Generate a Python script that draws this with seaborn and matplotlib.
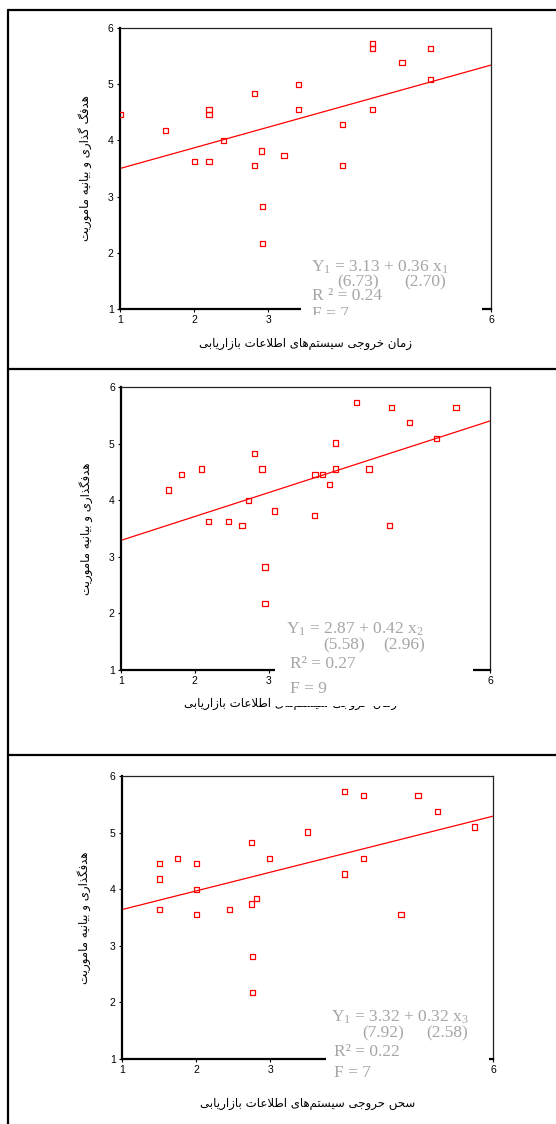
import matplotlib
matplotlib.use('Agg')
import matplotlib.pyplot as plt
import seaborn as sns
from matplotlib.patches import Rectangle
from matplotlib.lines import Line2D
from matplotlib.transforms import Bbox, TransformedBbox

# ---------- data ----------
x1 = [1.01, 1.61, 2.00, 2.20, 2.20, 2.20, 2.40, 2.81, 2.81, 2.91, 2.92, 2.92,
      3.21, 3.41, 3.41, 4.00, 4.00, 4.40, 4.40, 4.40, 4.80, 5.19, 5.19]
y1 = [4.46, 4.18, 3.63, 4.55, 4.46, 3.63, 4.00, 4.83, 3.55, 3.81, 2.82, 2.17,
      3.73, 5.00, 4.55, 4.28, 3.55, 5.73, 5.64, 4.55, 5.38, 5.64, 5.09]

x2 = [1.64, 1.82, 2.09, 2.19, 2.46, 2.64, 2.73, 2.81, 2.91, 2.95, 2.95, 3.08,
      3.62, 3.63, 3.73, 3.82, 3.91, 3.91, 4.19, 4.36, 4.64, 4.66, 4.91, 5.27, 5.54]
y2 = [4.18, 4.46, 4.55, 3.63, 3.63, 3.55, 4.00, 4.83, 4.55, 2.82, 2.17, 3.81,
      3.73, 4.46, 4.46, 4.28, 5.01, 4.55, 5.73, 4.55, 3.55, 5.64, 5.37, 5.09, 5.64]

x3 = [1.50, 1.50, 1.50, 1.75, 2.00, 2.00, 2.00, 2.45, 2.74, 2.74, 2.81, 2.76,
      2.76, 2.99, 3.50, 4.00, 4.00, 4.25, 4.25, 4.76, 4.99, 5.25, 5.75]
y3 = [4.46, 4.18, 3.64, 4.54, 4.46, 4.00, 3.56, 3.64, 4.82, 3.74, 3.83, 2.81,
      2.18, 4.54, 5.01, 5.73, 4.27, 5.65, 4.54, 3.56, 5.65, 5.37, 5.10]

# fitted lines (intercept, slope) as drawn
fit_intercepts = [3.132, 2.868, 3.31]
fit_slopes = [0.368, 0.422, 0.33]

eq_lines = [r'Y$_1$ = 3.13 + 0.36 x$_1$', r'Y$_1$ = 2.87 + 0.42 x$_2$', r'Y$_1$ = 3.32 + 0.32 x$_3$']
t_left = ['(6.73)', '(5.58)', '(7.92)']
t_right = ['(2.70)', '(2.96)', '(2.58)']
r2_lines = ['R \u00b2 = 0.24', 'R\u00b2 = 0.27', 'R\u00b2 = 0.22']
f_lines = ['F = 7', 'F = 9', 'F = 7']

xlabels = ['زمان خروجی سیستم\u200cهای اطلاعات بازاریابی',
           'زمان خروجی سیستم\u200cهای اطلاعات بازاریابی',
           'سحں حروجی سیستم\u200cهای اطلاعات بازاریابی']
ylabels = ['هدفگ گذاری و بیانیه ماموریت',
           'هدفگذاری و بیانیه ماموریت',
           'هدفگذاری و بیانیه ماموریت']
ticks = [1, 2, 3, 4, 5, 6]
xtick_labels = ['1', '2', '3', '', '', '6']   # 4 and 5 sit under the equation box
ytick_labels = ['1', '2', '3', '4', '5', '6']

# ---------- minimal Arabic/Persian shaping (matplotlib has no RTL layout) ----------
FORMS = {
    'ا': ('\uFE8D', '\uFE8E', None, None),
    'ب': ('\uFE8F', '\uFE90', '\uFE91', '\uFE92'),
    'ت': ('\uFE95', '\uFE96', '\uFE97', '\uFE98'),
    'ج': ('\uFE9D', '\uFE9E', '\uFE9F', '\uFEA0'),
    'ح': ('\uFEA1', '\uFEA2', '\uFEA3', '\uFEA4'),
    'خ': ('\uFEA5', '\uFEA6', '\uFEA7', '\uFEA8'),
    'د': ('\uFEA9', '\uFEAA', None, None),
    'ذ': ('\uFEAB', '\uFEAC', None, None),
    'ر': ('\uFEAD', '\uFEAE', None, None),
    'ز': ('\uFEAF', '\uFEB0', None, None),
    'س': ('\uFEB1', '\uFEB2', '\uFEB3', '\uFEB4'),
    'ط': ('\uFEC1', '\uFEC2', '\uFEC3', '\uFEC4'),
    'ع': ('\uFEC9', '\uFECA', '\uFECB', '\uFECC'),
    'ف': ('\uFED1', '\uFED2', '\uFED3', '\uFED4'),
    'ل': ('\uFEDD', '\uFEDE', '\uFEDF', '\uFEE0'),
    'م': ('\uFEE1', '\uFEE2', '\uFEE3', '\uFEE4'),
    'ن': ('\uFEE5', '\uFEE6', '\uFEE7', '\uFEE8'),
    'ه': ('\uFEE9', '\uFEEA', '\uFEEB', '\uFEEC'),
    'و': ('\uFEED', '\uFEEE', None, None),
    'ی': ('\uFBFC', '\uFBFD', '\uFBFE', '\uFBFF'),
    'گ': ('\uFB92', '\uFB93', '\uFB94', '\uFB95'),
    'ک': ('\uFB8E', '\uFB8F', '\uFB90', '\uFB91'),
    'ں': ('\uFB9E', '\uFB9F', None, None),
}


def shape(text):
    letters = []
    i = 0
    while i < len(text):
        if text[i] == 'ل' and i + 1 < len(text) and text[i + 1] == 'ا':
            letters.append('LA')
            i += 2
        else:
            letters.append(text[i])
            i += 1

    def joinable(c):
        return c in FORMS or c == 'LA'

    def joins_fwd(c):
        return c in FORMS and FORMS[c][2] is not None

    out = []
    for k, c in enumerate(letters):
        prev = letters[k - 1] if k > 0 else None
        nxt = letters[k + 1] if k + 1 < len(letters) else None
        jp = prev is not None and joins_fwd(prev) and joinable(c)
        if c == 'LA':
            out.append('\uFEFC' if jp else '\uFEFB')
            continue
        if c not in FORMS:
            if c != '\u200c':
                out.append(c)
            continue
        iso, fin, ini, med = FORMS[c]
        jn = ini is not None and nxt is not None and joinable(nxt)
        if jp and jn:
            out.append(med)
        elif jp:
            out.append(fin)
        elif jn:
            out.append(ini)
        else:
            out.append(iso)
    return ''.join(reversed(out))


# ---------- layout (pixels of a 556x1124 image) ----------
W, H = 556, 1124
def fx(px): return px / W
def fy(py): return 1 - py / H

sns.set_theme(style='white')
plt.rcParams['font.family'] = ['Liberation Sans', 'DejaVu Sans']
plt.rcParams['mathtext.fontset'] = 'custom'
plt.rcParams['mathtext.rm'] = 'Liberation Serif'
plt.rcParams['mathtext.it'] = 'Liberation Serif:italic'

fig = plt.figure(figsize=(W / 100, H / 100), dpi=100)

# axes boxes: left, top, right, bottom in pixels
boxes = [(120, 28, 491, 309), (121, 387, 490, 670), (122, 776, 493, 1059)]
ylab_x = [-0.094, -0.095, -0.102]
xlab_pos = [(0.50, -0.121), (0.46, -0.117), (0.50, -0.159)]

# equation box placement (pixels)
ann = [
    dict(cover=(301, 250, 482, 325), clip_bottom=315, eq=(311, 267), tl=(337, 282), tr=(404, 282),
         r2=(312, 296), f=(312, 314)),
    dict(cover=(275, 610, 473, 706), clip_bottom=706, eq=(286, 629), tl=(323, 645), tr=(383, 645),
         r2=(290, 664), f=(290, 689)),
    dict(cover=(326, 1000, 489, 1085), clip_bottom=1085, eq=(331, 1017), tl=(362, 1033), tr=(426, 1033),
         r2=(334, 1052), f=(334, 1073)),
]

xs = [x1, x2, x3]
ys = [y1, y2, y3]

for i in range(3):
    l, t, r, b = boxes[i]
    ax = fig.add_axes([fx(l), fy(b), (r - l) / W, (b - t) / H])
    sns.scatterplot(x=xs[i], y=ys[i], ax=ax, marker='s', s=14,
                    facecolors='none', edgecolors='red', linewidths=0.9, zorder=3)
    ax.axline((0, fit_intercepts[i]), slope=fit_slopes[i], color='red', lw=0.9, zorder=2)
    ax.set_xlim(1, 6)
    ax.set_ylim(1, 6)
    ax.set_xticks(ticks, xtick_labels)
    ax.set_yticks(ticks, ytick_labels)
    ax.tick_params(bottom=True, left=True, length=2.5, width=0.8, pad=2,
                   labelsize=7.5, colors='black')
    for s in ['left', 'bottom']:
        ax.spines[s].set_linewidth(1.6)
        ax.spines[s].set_color('black')
    for s in ['top', 'right']:
        ax.spines[s].set_linewidth(0.9)
        ax.spines[s].set_color('#222222')
    ax.set_xlabel(shape(xlabels[i]), fontfamily='DejaVu Sans', fontsize=8.5,
                  color='black', va='center')
    ax.xaxis.set_label_coords(*xlab_pos[i])
    ax.set_ylabel(shape(ylabels[i]), fontfamily='DejaVu Sans', fontsize=8.5,
                  color='black', va='center')
    ax.yaxis.set_label_coords(ylab_x[i], 0.5)

    a = ann[i]
    cl, ct, cr, cb = a['cover']
    fig.patches.append(Rectangle((fx(cl), fy(cb)), (cr - cl) / W, (cb - ct) / H,
                                 transform=fig.transFigure, facecolor='white',
                                 edgecolor='none', zorder=5))
    clip = TransformedBbox(Bbox.from_extents(fx(cl), fy(a['clip_bottom']), fx(cr), fy(ct)),
                           fig.transFigure)
    kw = dict(family='Liberation Serif', color='#a6a6a6', fontsize=12.5,
              va='center', ha='left', zorder=6)
    for key, s in [('eq', eq_lines[i]), ('tl', t_left[i]), ('tr', t_right[i]),
                   ('r2', r2_lines[i]), ('f', f_lines[i])]:
        px, py = a[key]
        txt = fig.text(fx(px), fy(py), s, **kw)
        txt.set_clip_box(clip)
        txt.set_clip_on(True)

# page frame lines
frame_kw = dict(transform=fig.transFigure, color='black', lw=1.6, zorder=7)
fig.add_artist(Line2D([fx(7.5), fx(7.5)], [fy(10), fy(H)], **frame_kw))
for py in [10, 369, 755]:
    fig.add_artist(Line2D([fx(7.5), 1], [fy(py), fy(py)], **frame_kw))

fig.savefig('out.png', dpi=100, facecolor='white')
